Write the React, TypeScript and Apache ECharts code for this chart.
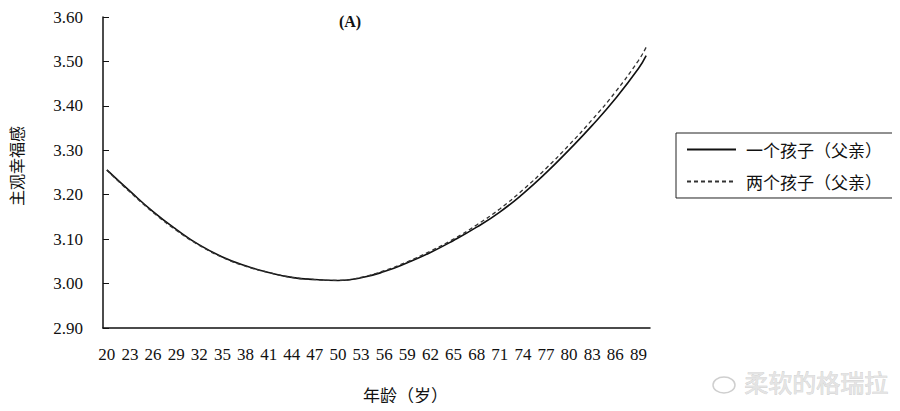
import React, { useEffect, useRef } from "react";
import * as echarts from "echarts";

const ages: string[] = [];
for (let a = 20; a <= 90; a++) ages.push(String(a));

const sampleAges = ["20","23","26","29","32","35","38","41","44","47","50","53","56","59","62","65","68","71","74","77","80","83","86","89","90"];
const oneChild = [3.256,3.208,3.162,3.122,3.087,3.060,3.040,3.025,3.014,3.009,3.007,3.013,3.027,3.047,3.070,3.097,3.127,3.161,3.202,3.249,3.301,3.356,3.416,3.484,3.513];
const twoChildren = [3.255,3.206,3.160,3.120,3.086,3.059,3.039,3.025,3.014,3.009,3.007,3.014,3.029,3.049,3.073,3.100,3.132,3.168,3.211,3.259,3.312,3.369,3.431,3.502,3.532];

const seriesNames = ["一个孩子（父亲）", "两个孩子（父亲）"];
const titleText = "(A)";
const xName = "年龄（岁）";
const yName = "主观幸福感";
const watermark = "柔软的格瑞拉";

const serif = "'Liberation Serif', 'Noto Sans CJK SC', serif";
const cjk = "'Noto Sans CJK SC', sans-serif";

export default function App() {
  const ref = useRef<HTMLDivElement>(null);
  useEffect(() => {
    if (!ref.current) return;
    const chart = echarts.init(ref.current, undefined, { renderer: "svg" });
    chart.setOption({
      animation: false,
      backgroundColor: "#fff",
      title: {
        text: titleText,
        left: 345,
        top: 8,
        textAlign: "center",
        textStyle: { fontFamily: serif, fontSize: 16, fontWeight: "bold", color: "#111" },
      },
      legend: {
        orient: "vertical",
        left: 676,
        top: 133,
        borderColor: "#222",
        borderWidth: 1,
        borderRadius: 0,
        padding: [8, 14, 8, 10],
        itemGap: 15,
        itemWidth: 49,
        itemHeight: 10,
        itemStyle: { opacity: 0 },
        textStyle: { fontFamily: cjk, fontSize: 17, color: "#111", padding: [0, 0, 0, 5] },
        data: seriesNames,
      },
      grid: { left: 103, right: 250, top: 17, bottom: 83 },
      xAxis: {
        type: "category",
        data: ages,
        boundaryGap: true,
        axisLine: { lineStyle: { color: "#111", width: 1.5 } },
        axisTick: { inside: true, length: 5, interval: 0, lineStyle: { color: "#111" } },
        axisLabel: { interval: 2, fontFamily: serif, fontSize: 17, color: "#111", margin: 18 },
        splitLine: { show: false },
      },
      yAxis: {
        type: "value",
        min: 2.9,
        max: 3.6,
        interval: 0.1,
        axisLine: { show: true, lineStyle: { color: "#111", width: 1.5 } },
        axisTick: { show: true, inside: true, length: 6, lineStyle: { color: "#111" } },
        axisLabel: {
          fontFamily: serif,
          fontSize: 17,
          color: "#111",
          margin: 20,
          formatter: (v: number) => v.toFixed(2),
        },
        splitLine: { show: false },
      },
      series: [
        {
          name: seriesNames[0],
          type: "line",
          smooth: true,
          symbol: "none",
          lineStyle: { color: "#111", width: 1.6, type: "solid" },
          itemStyle: { color: "#111" },
          data: sampleAges.map((a, i) => [a, oneChild[i]]),
        },
        {
          name: seriesNames[1],
          type: "line",
          smooth: true,
          symbol: "none",
          lineStyle: { color: "#333", width: 1.3, type: [4, 3] },
          itemStyle: { color: "#333" },
          data: sampleAges.map((a, i) => [a, twoChildren[i]]),
        },
      ],
      graphic: [
        {
          type: "text",
          left: 363,
          top: 386,
          style: {
            text: xName,
            fontFamily: cjk,
            fontSize: 17,
            fill: "#111",
          },
        },
        {
          type: "text",
          x: 16,
          y: 166,
          rotation: Math.PI / 2,
          style: {
            text: yName,
            fontFamily: cjk,
            fontSize: 16,
            fill: "#111",
            align: "center",
            verticalAlign: "middle",
          },
        },
        {
          type: "ellipse",
          shape: { cx: 724, cy: 385, rx: 11, ry: 8 },
          style: { fill: "none", stroke: "#cfcfcf", lineWidth: 1.5 },
        },
        {
          type: "text",
          left: 744,
          top: 369,
          style: {
            text: watermark,
            fontFamily: cjk,
            fontSize: 24,
            fill: "#e4e4e4",
            stroke: "#c8c8c8",
            lineWidth: 0.6,
          },
        },
      ],
    });
    return () => chart.dispose();
  }, []);
  return <div ref={ref} style={{ width: 900, height: 411, margin: -8 }} />;
}
